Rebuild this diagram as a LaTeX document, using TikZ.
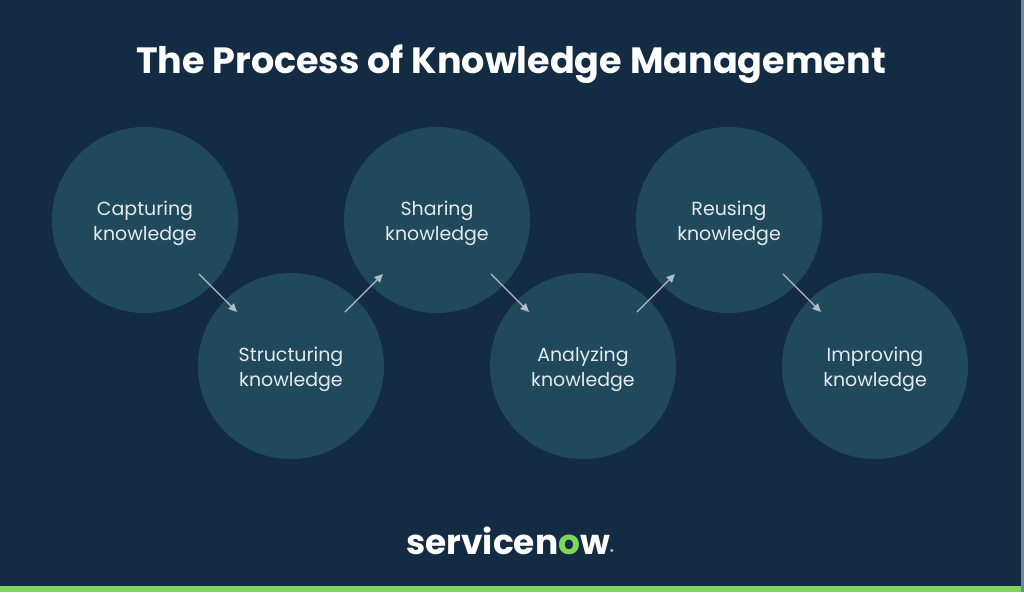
\documentclass[tikz,border=0pt]{standalone}
\usepackage{fontspec}
\setmainfont{Poppins}
\usetikzlibrary{calc,arrows.meta}
\definecolor{navy}{RGB}{19,43,67}
\definecolor{teal}{RGB}{32,74,91}
\definecolor{snowgreen}{RGB}{126,214,90}
\definecolor{edgegrey}{RGB}{120,135,150}
\definecolor{arrowgrey}{RGB}{175,188,195}
\definecolor{softwhite}{RGB}{228,234,236}
\tikzset{
  stepcircle/.style={circle, fill=teal, inner sep=0pt, minimum size=4.65cm},
  steptext/.style={align=center, text=softwhite, yshift=-2.2pt, font=\fontsize{13.5}{17.8}\selectfont},
  flow/.style={draw=arrowgrey, line width=0.9pt, -{Triangle[length=6pt,width=5.5pt]}}
}
\begin{document}
\begin{tikzpicture}[x=0.025cm, y=-0.025cm, line join=round, line cap=round]
	\def\w{1021} \def\h{592}
	\fill[navy] (0,0) rectangle (\w,\h);
	\fill[snowgreen] (0,586) rectangle (\w,\h);
	\fill[edgegrey] (\w,0) rectangle (1024,\h);
	\node[text=white, font=\fontsize{26}{30}\selectfont\bfseries] (title) at (511,64) {The Process of Knowledge Management};
	% the six steps
	\foreach \n/\x/\y/\t in {cap/145/220/Capturing, str/291/366/Structuring, sha/437/220/Sharing,
		ana/583/366/Analyzing, reu/729/220/Reusing, imp/875/366/Improving}
		\node[stepcircle, label={[steptext]center:\t\\knowledge}] (\n) at (\x,\y) {};
	\foreach \a/\b in {cap/str, str/sha, sha/ana, ana/reu, reu/imp}
		\draw[flow] ($(\a.center)!0.37!(\b.center)$) -- ($(\a.center)!0.63!(\b.center)$);
	% logo
	\node[text=white, font=\fontsize{24.5}{28}\selectfont\bfseries] (logo) at (510,541)
		{servicen\textcolor{snowgreen}{o}w\raisebox{0pt}{\fontsize{5}{6}\selectfont\textregistered}};
\end{tikzpicture}
\end{document}
